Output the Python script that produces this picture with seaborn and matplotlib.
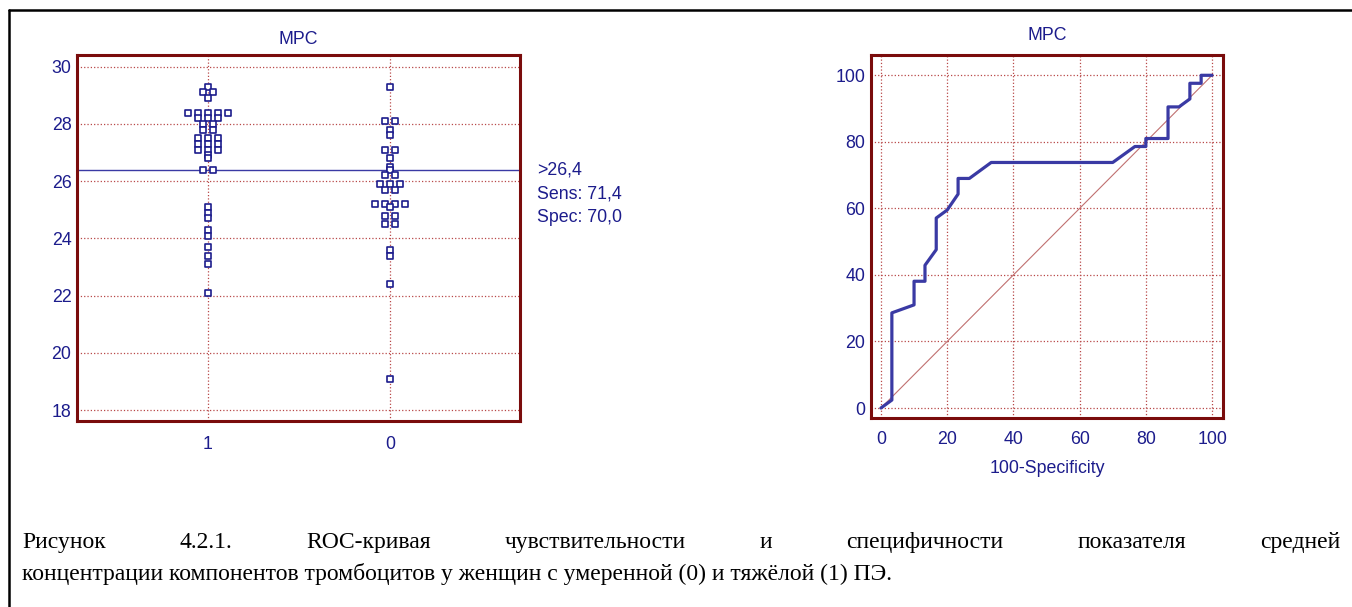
import numpy as np
import pandas as pd
import matplotlib
matplotlib.use("Agg")
import matplotlib.pyplot as plt
import seaborn as sns
from matplotlib.lines import Line2D
from matplotlib.ticker import MultipleLocator


# valeurs MPC par groupe (1 = ПЭ тяжёлая, 0 = умеренная)
grp1_values = [29.3, 29.1, 29.1, 28.9, 28.4, 28.4, 28.4, 28.4, 28.4, 28.2, 28.2, 28.2,
               28.0, 28.0, 27.8, 27.8, 27.5, 27.5, 27.5, 27.3, 27.3, 27.3, 27.1, 27.1, 27.1,
               26.9, 26.8, 26.4, 26.4, 25.1, 24.9, 24.7, 24.3, 24.1, 23.7, 23.4, 23.1, 22.1]
grp0_values = [29.3, 28.1, 28.1, 27.8, 27.6, 27.1, 27.1, 26.8, 26.5, 26.4, 26.2, 26.2,
               25.9, 25.9, 25.9, 25.7, 25.7, 25.2, 25.2, 25.2, 25.2, 25.1, 24.8, 24.8,
               24.5, 24.5, 23.6, 23.4, 22.4, 19.1]
groups = ["1", "0"]
cutoff = 26.4
criterion_lines = [">26,4", "Sens: 71,4", "Spec: 70,0"]

# courbe ROC
fpr = [0, 3.3, 3.3, 10, 10, 13.3, 13.3, 16.7, 16.7, 20, 23.3, 23.3, 26.7, 33.3, 70,
       76.7, 80, 80, 86.7, 86.7, 90, 93.3, 93.3, 96.7, 96.7, 100]
tpr = [0, 2.4, 28.6, 31.0, 38.1, 38.1, 42.9, 47.6, 57.1, 59.5, 64.3, 69.0, 69.0, 73.8, 73.8,
       78.6, 78.6, 81.0, 81.0, 90.5, 90.5, 92.9, 97.6, 97.6, 100, 100]
diag = [0, 100]

caption1 = "Рисунок 4.2.1. ROC-кривая чувствительности и специфичности показателя средней"
caption2 = "концентрации компонентов тромбоцитов у женщин с умеренной (0) и тяжёлой (1) ПЭ."

navy = "#1c1c8c"
maroon = "#7a0c0c"
gridc = "#b84848"
linec = "#3a3aa4"

sns.set_style("white")
plt.rcParams["font.family"] = ["Liberation Sans", "DejaVu Sans"]

W, H = 1352, 607
fig = plt.figure(figsize=(W / 100, H / 100), dpi=100)
ax1 = fig.add_axes([77 / W, 1 - 421 / H, 443 / W, 366 / H])
ax2 = fig.add_axes([871 / W, 1 - 418 / H, 352 / W, 363 / H])

# points: les valeurs identiques sont alignées côte à côte
df = pd.DataFrame({"group": ["1"] * len(grp1_values) + ["0"] * len(grp0_values),
                   "MPC": grp1_values + grp0_values})
df["xpos"] = df["group"].map({g: i for i, g in enumerate(groups)})
dup = df.groupby(["group", "MPC"])
df["rank"] = dup.cumcount()
df["n"] = dup["MPC"].transform("size")
df["x"] = df["xpos"] + (df["rank"] - (df["n"] - 1) / 2) * 0.055

ax1.axhline(cutoff, color=linec, lw=1.0, zorder=2)
sns.scatterplot(data=df, x="x", y="MPC", marker="s", s=24, color="white",
                edgecolor=navy, linewidth=1.2, ax=ax1, zorder=3)
ax1.set_xlim(-0.72, 1.714)
ax1.set_ylim(17.62, 30.41)
ax1.set_xticks(range(len(groups)))
ax1.set_xticklabels(groups)
ax1.yaxis.set_major_locator(MultipleLocator(2))
ax1.yaxis.set_minor_locator(MultipleLocator(0.5))
ax1.set_xlabel("")
ax1.set_ylabel("")
ax1.set_title("MPC", color=navy, fontsize=12.8, pad=8)
ax1.tick_params(axis="x", length=0, pad=11, labelcolor=navy, labelsize=12.8)

for i, line in enumerate(criterion_lines):
    ax1.annotate(line, xy=(1, cutoff), xycoords=("axes fraction", "data"),
                 xytext=(12, -i * 17.3), textcoords="offset points",
                 va="center", ha="left", color=navy, fontsize=12.8,
                 annotation_clip=False)

# ROC
sns.lineplot(x=diag, y=diag, color="#c07070", lw=0.8, ax=ax2)
sns.lineplot(x=fpr, y=tpr, sort=False, estimator=None, color=linec, lw=2.3, ax=ax2)
ax2.set_xlim(-3.0, 103.3)
ax2.set_ylim(-3.0, 106.1)
for axis in (ax2.xaxis, ax2.yaxis):
    axis.set_major_locator(MultipleLocator(20))
    axis.set_minor_locator(MultipleLocator(5))
ax2.set_title("MPC", color=navy, fontsize=12.8, pad=11)
ax2.set_xlabel("100-Specificity", color=navy, fontsize=12.8, labelpad=9)
ax2.tick_params(axis="x", which="major", pad=9)

for ax in (ax1, ax2):
    ax.grid(True, which="major", ls=":", color=gridc, lw=0.9)
    for sp in ax.spines.values():
        sp.set_color(maroon)
        sp.set_linewidth(2.2)
    ax.tick_params(which="both", direction="in", color=maroon, labelcolor=navy,
                   labelsize=12.8)
    ax.tick_params(axis="y", which="major", length=6, width=1.6, pad=4)
    ax.tick_params(which="minor", length=3, width=1.4)
ax1.tick_params(axis="x", which="both", length=0)
ax2.tick_params(axis="x", which="major", length=6, width=1.6)

# cadre
fig.add_artist(Line2D([9 / W, 1], [1 - 10 / H, 1 - 10 / H], transform=fig.transFigure,
                      color="black", lw=1.8))
fig.add_artist(Line2D([9 / W, 9 / W], [0, 1 - 10 / H], transform=fig.transFigure,
                      color="black", lw=1.8))

# légende (première ligne justifiée)
cap_font = dict(family=["Liberation Serif", "DejaVu Serif"], fontsize=17, color="black",
                va="baseline")
words = caption1.split()
texts = [fig.text(0, 1 - 548 / H, w, ha="left", **cap_font) for w in words]
fig.canvas.draw()
renderer = fig.canvas.get_renderer()
widths = [t.get_window_extent(renderer).width for t in texts]
left, right = 22, 1340
gap = (right - left - sum(widths)) / (len(words) - 1)
x = left
for t, w in zip(texts, widths):
    t.set_x(x / W)
    x += w + gap
fig.text(left / W, 1 - 580 / H, caption2, ha="left", **cap_font)

plt.savefig("out.png", dpi=100)
